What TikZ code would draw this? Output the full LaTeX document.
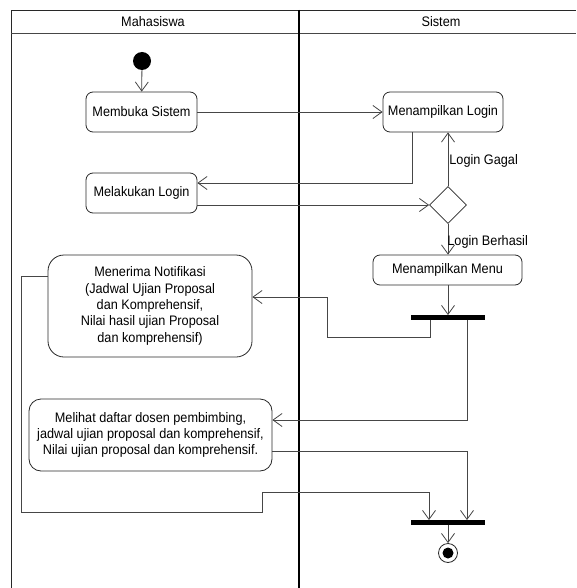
\documentclass[tikz,border=0pt]{standalone}
\usepackage{fontspec}
\setmainfont{Liberation Sans}[FakeStretch=0.92]
\usetikzlibrary{arrows.meta,shapes.geometric}
\definecolor{wire}{RGB}{70,70,70}
\definecolor{edge}{RGB}{40,40,40}

\tikzset{
    act/.style={draw=edge, line width=0.8pt, rounded corners=7pt, align=center,
        inner sep=2pt, font=\fontsize{13.8}{16.3}\selectfont},
    bar/.style={fill=black, minimum width=74pt, minimum height=4.5pt, inner sep=0pt},
    flow/.style={draw=wire, line width=0.8pt, -{Straight Barb[length=9pt,width=13pt]}},
    lbl/.style={font=\fontsize{13.8}{15}\selectfont, inner sep=1pt}
}

\begin{document}
\begin{tikzpicture}[x=1pt, y=-1pt]
    \useasboundingbox (0,0) rectangle (576,588);
    \fill[white] (0,0) rectangle (576,588);

    % Swimlanes
    \draw[edge, line width=0.9pt] (11,588) -- (11,10) -- (576,10);
    \draw[wire, line width=0.9pt] (11,33) -- (576,33);
    \draw[black, line width=2pt] (299,10) -- (299,588);
    \node[lbl] (laneMhs) at (153,22) {Mahasiswa};
    \node[lbl] (laneSys) at (441,22) {Sistem};

    % Start and end points
    \node[circle, fill=black, minimum size=18pt, inner sep=0pt] (start) at (142,61) {};
    \node[circle, draw=edge, line width=0.8pt, minimum size=19pt, inner sep=0pt] (finish) at (448,553) {};
    \fill[black] (finish) circle (5.5);

    % Activities
    \node[act, minimum width=111pt, minimum height=40pt] (buka) at (141.5,112) {Membuka Sistem};
    \node[act, minimum width=120pt, minimum height=40pt] (showLogin) at (443,112) {Menampilkan Login};
    \node[act, minimum width=111pt, minimum height=40pt] (doLogin) at (141.5,193) {Melakukan Login};
    \node[diamond, draw=edge, line width=0.8pt, minimum width=37pt, minimum height=37pt, inner sep=0pt] (cek) at (448,205) {};
    \node[act, minimum width=149pt, minimum height=30pt] (showMenu) at (447.5,270) {Menampilkan Menu};
    \node[act, rounded corners=16pt, minimum width=204pt, minimum height=102pt] (notif) at (150,306)
        {Menerima Notifikasi\\(Jadwal Ujian Proposal\\dan Komprehensif,\\Nilai hasil ujian Proposal\\dan komprehensif)};
    \node[act, rounded corners=12pt, minimum width=243pt, minimum height=72pt] (lihat) at (150.5,435)
        {Melihat daftar dosen pembimbing,\\jadwal ujian proposal dan komprehensif,\\Nilai ujian proposal dan komprehensif.};

    % Fork and join bars
    \node[bar] (fork) at (448,317.5) {};
    \node[bar] (join) at (447.5,522.5) {};

    % Flows
    \draw[flow] (start) -- (buka);
    \draw[flow] (buka) -- (showLogin);
    \draw[flow] ([xshift=-31pt]showLogin.south) |- ([yshift=10pt]doLogin.east);
    \draw[flow] ([yshift=-12pt]doLogin.east) -- (cek.west);
    \draw[flow] (cek.north) -- node[lbl, right, pos=0.46] (gagal) {Login Gagal} (cek.north |- showLogin.south);
    \draw[flow] (cek.south) -- node[lbl, right, pos=0.6, xshift=-2pt] (berhasil) {Login Berhasil} (cek.south |- showMenu.north);
    \draw[flow] (showMenu.south -| fork.north) -- (fork.north);
    \draw[flow] ([xshift=-18pt]fork.south) -- ++(0,17) -| (327,297) -- ([yshift=9pt]notif.east);
    \draw[flow] ([xshift=19pt]fork.south) |- ([yshift=15pt]lihat.east);
    \draw[flow] ([yshift=-16pt]lihat.east) -| ([xshift=19.5pt]join.north);
    \draw[flow] ([yshift=30pt]notif.west) -| (21,512) -| (262,492) -| ([xshift=-18.5pt]join.north);
    \draw[flow] (join.south -| finish.north) -- (finish.north);
\end{tikzpicture}
\end{document}
